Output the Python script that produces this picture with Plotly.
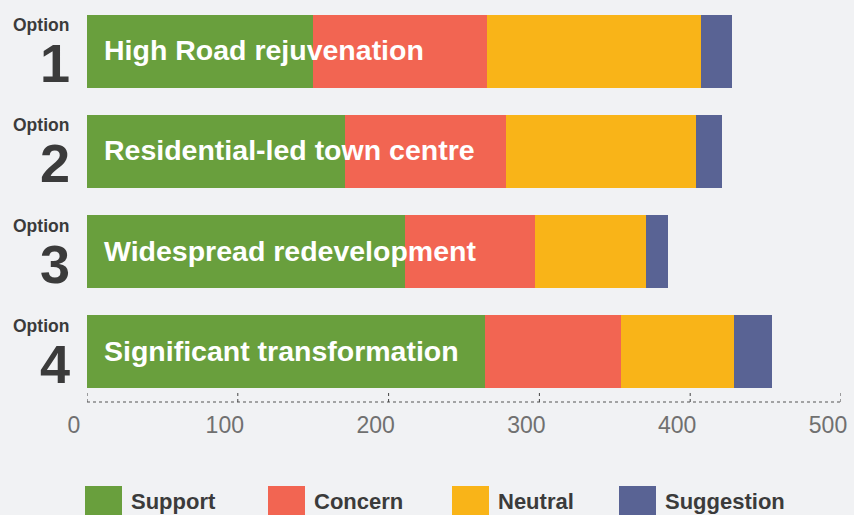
import plotly.graph_objects as go

# ---- data ----
options = ["Option 1", "Option 2", "Option 3", "Option 4"]
option_numbers = ["1", "2", "3", "4"]
option_titles = ["High Road rejuvenation", "Residential-led town centre",
                 "Widespread redevelopment", "Significant transformation"]
series_names = ["Support", "Concern", "Neutral", "Suggestion"]
support = [150, 171, 211, 264]
concern = [115, 107, 86, 90]
neutral = [142, 126, 74, 75]
suggestion = [21, 17, 14, 25]
tick_values = [0, 100, 200, 300, 400, 500]
tick_labels = ["0", "100", "200", "300", "400", "500"]

colors = ["#699F3D", "#F26552", "#F9B418", "#596394"]
series_values = [support, concern, neutral, suggestion]

BG = "#F1F2F4"
FONT = "Liberation Sans, Arial, sans-serif"

# plot-area geometry in pixels (for converting layout positions)
W, H = 854, 515
L, R, T, B = 87, 13, 1, 113
PW = W - L - R
PH = H - T - B


def px_x(px):
    return (px - L) / PW


def px_y(py):
    return (H - B - py) / PH


fig = go.Figure()
for name, vals, col in zip(series_names, series_values, colors):
    fig.add_trace(go.Bar(
        y=options, x=vals, name=name, orientation="h",
        marker=dict(color=col, line=dict(width=0)),
        showlegend=False, hoverinfo="x+name",
    ))

annotations = []
for opt, num, title in zip(options, option_numbers, option_titles):
    annotations.append(dict(
        x=0, y=opt, xref="x", yref="y", text=title, showarrow=False,
        xanchor="left", yanchor="middle", xshift=15, yshift=1,
        font=dict(family=FONT, size=28.5, color="white", weight="bold"),
    ))
    annotations.append(dict(
        x=0, y=opt, xref="paper", yref="y", text="Option", showarrow=False,
        xanchor="right", yanchor="middle", xshift=-16, yshift=26,
        font=dict(family=FONT, size=17.5, color="#3B3B3B", weight="bold"),
    ))
    annotations.append(dict(
        x=0, y=opt, xref="paper", yref="y", text=num, showarrow=False,
        xanchor="right", yanchor="middle", xshift=-15, yshift=-12,
        font=dict(family=FONT, size=54, color="#3B3B3B", weight="bold"),
    ))

shapes = []
# dotted axis line
shapes.append(dict(type="line", xref="x", yref="paper", x0=0, x1=500, y0=0, y1=0,
                   line=dict(color="#555555", width=1, dash="dot"), layer="above"))
# dotted tick marks
for tv in tick_values:
    shapes.append(dict(type="line", xref="x", yref="paper", x0=tv, x1=tv,
                       ysizemode="pixel", yanchor=0, y0=0, y1=11,
                       line=dict(color="#444444", width=1, dash="dot"), layer="above"))

# custom legend with large squares
legend_left_px = [85, 268, 452, 619]
for name, col, lx in zip(series_names, colors, legend_left_px):
    shapes.append(dict(type="rect", xref="paper", yref="paper",
                       x0=px_x(lx), x1=px_x(lx + 37), y0=px_y(486), y1=px_y(523),
                       fillcolor=col, line=dict(width=0)))
    annotations.append(dict(
        x=px_x(lx + 44), y=px_y(501), xref="paper", yref="paper", text=name,
        showarrow=False, xanchor="left", yanchor="middle",
        font=dict(family=FONT, size=22, color="#3B3B3B", weight="bold"),
    ))

fig.update_layout(
    width=W, height=H,
    barmode="stack", bargap=0.27,
    paper_bgcolor=BG, plot_bgcolor=BG,
    margin=dict(l=L, r=R, t=T, b=B, pad=0),
    showlegend=False,
    xaxis=dict(range=[0, 500], tickvals=tick_values, ticktext=tick_labels,
               showgrid=False, zeroline=False, showline=False, ticks="",
               ticklabelshift=-13, ticklabelstandoff=7,
               tickfont=dict(family=FONT, size=23, color="#707070"),
               fixedrange=True),
    yaxis=dict(categoryorder="array", categoryarray=options, autorange="reversed",
               showticklabels=False, showgrid=False, zeroline=False, showline=False,
               ticks="", fixedrange=True),
    annotations=annotations,
    shapes=shapes,
)

fig.write_html("out.html",
               config={"displayModeBar": False},
               post_script="document.body.style.margin='0';document.body.style.background='" + BG + "';")
